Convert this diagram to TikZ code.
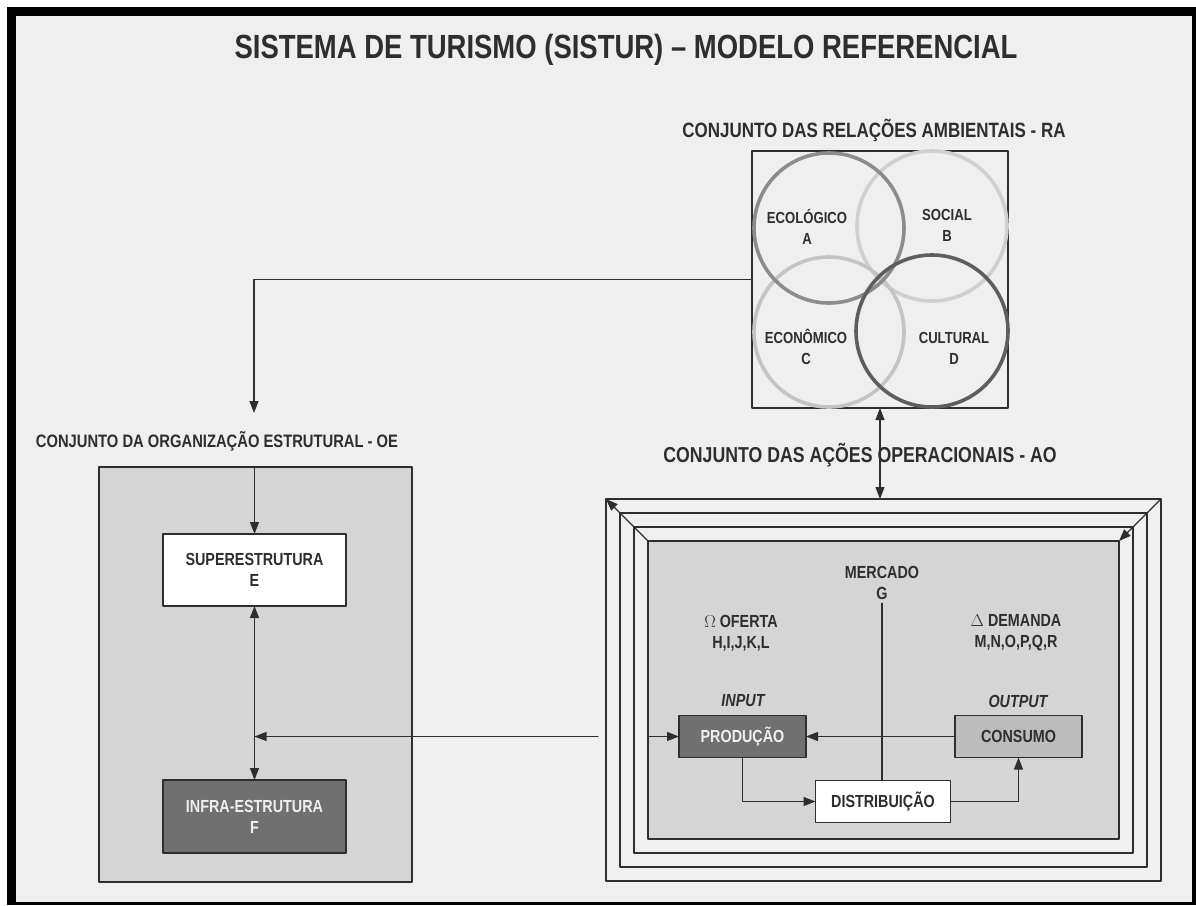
\documentclass[tikz,border=0pt]{standalone}
\usepackage{fontspec}
\setmainfont{Liberation Sans}[FakeStretch=0.82]
\usetikzlibrary{
  arrows.meta,
  positioning,
  calc
}
\definecolor{paper}{HTML}{EFEFEF}
\definecolor{ink}{HTML}{2E2E2E}
\definecolor{panel}{HTML}{D5D5D5}
\definecolor{darkfill}{HTML}{707070}
\definecolor{midfill}{HTML}{BCBCBC}
\definecolor{ringeco}{HTML}{8C8C8C}
\definecolor{ringsoc}{HTML}{D0D0D0}
\definecolor{ringeconom}{HTML}{C4C4C4}
\definecolor{ringcult}{HTML}{5E5E5E}
\tikzset{
  line/.style={draw=ink, line width=1.1pt},
  boxline/.style={draw=ink, line width=1.1pt, inner sep=0pt, outer sep=0pt},
  ring/.style={line width=3.6pt},
  titletext/.style={font=\bfseries\fontsize{33.5}{38}\selectfont, text=ink},
  heading/.style={font=\bfseries\fontsize{#1}{24}\selectfont, text=ink},
  heading/.default=20,
  lbl/.style={font=\bfseries\fontsize{17.5}{21}\selectfont, align=center, text=ink},
  ringlbl/.style={font=\bfseries\fontsize{16}{21}\selectfont, align=center, text=ink},
  unitbox/.style={boxline, lbl, minimum width=127pt, minimum height=42pt}
}
\begin{document}
\begin{tikzpicture}[line cap=round,line join=round,>={Triangle[length=12pt,width=9pt]},x=1pt,y=-1pt]
\useasboundingbox (0,0) rectangle (1196,905);
\fill[black] (7,7) rectangle (1196,905);
\fill[paper] (16,16) rectangle (1192,902);
\node[titletext] (title) at (626,50) {SISTEMA DE TURISMO (SISTUR) – MODELO REFERENCIAL};

% relacoes ambientais
\node[heading=20.7] (rahead) at (874,130) {CONJUNTO DAS RELAÇÕES AMBIENTAIS - RA};
\node[boxline, minimum width=256pt, minimum height=257pt] (ra) at (880,279.5) {};
\draw[ring, ringsoc] (932,226) circle[radius=75pt];
\draw[ring, ringeconom] (829,332) circle[radius=75pt];
\draw[ring, ringeco] (829,228) circle[radius=75pt];
\draw[ring, ringcult] (932,331) circle[radius=76pt];
\node[ringlbl] (eco) at (807,227) {ECOLÓGICO\\A};
\node[ringlbl] (soc) at (947,225) {SOCIAL\\B};
\node[ringlbl] (econ) at (806,347) {ECONÔMICO\\C};
\node[ringlbl] (cult) at (954,348) {CULTURAL\\D};

% organizacao estrutural
\coordinate (oein) at (254,413);
\draw[line,->] (ra.west) -| (oein);
\node[heading=18] (oehead) at (217,441) {CONJUNTO DA ORGANIZAÇÃO ESTRUTURAL - OE};
\node[boxline, fill=panel, minimum width=313pt, minimum height=415pt] (oe) at (255.5,674.5) {};
\node[boxline, lbl, fill=white, minimum width=183pt, minimum height=72pt] (sup) at (254.5,570) {SUPERESTRUTURA\\E};
\node[boxline, lbl, fill=darkfill, text=paper, minimum width=183pt, minimum height=73pt] (inf) at (254.5,816.5) {INFRA-ESTRUTURA\\F};
\draw[line,->] (oe.north -| sup.north) -- (sup.north);
\draw[line,<->] (sup.south) -- (inf.north);
\coordinate (aoout) at (598,736.5);
\draw[line,->] (aoout) -- (aoout -| sup.south);

% acoes operacionais
\node[heading=21.6] (aohead) at (860,455) {CONJUNTO DAS AÇÕES OPERACIONAIS - AO};
\foreach \i/\d in {1/0,2/14,3/28}
  \node[boxline, minimum width={555-2*\d}, minimum height={382-2*\d}] (f\i) at (883.5,690) {};
\node[boxline, fill=panel, minimum width=471pt, minimum height=298pt] (f4) at (883.5,690) {};
\draw[line,->] (f4.north west) -- (f1.north west);
\draw[line,->] (f1.north east) -- (f4.north east);
\draw[line,<->] (ra.south) -- (ra.south |- f1.north);

\node[lbl] (merc) at (882,583) {MERCADO\\G};
\node[lbl] (oferta) at (741,633) {$\Omega$ OFERTA\\H,I,J,K,L};
\node[lbl] (demanda) at (1016,633) {$\Delta$ DEMANDA\\M,N,O,P,Q,R};
\node[lbl, font=\bfseries\itshape\fontsize{17.5}{21}\selectfont] (inp) at (743,701) {INPUT};
\node[lbl, font=\bfseries\itshape\fontsize{17.5}{21}\selectfont] (outp) at (1018,701) {OUTPUT};
\node[unitbox, fill=darkfill, text=paper] (prod) at (742.5,736.5) {PRODUÇÃO};
\node[unitbox, fill=midfill] (cons) at (1018.5,736.5) {CONSUMO};
\node[unitbox, fill=white, minimum width=135pt] (dist) at (883,801.5) {DISTRIBUIÇÃO};

\draw[line] (merc.south) -- (merc.south |- dist.north);
\draw[line,->] (cons.west) -- (prod.east);
\draw[line,->] (f4.west |- prod.west) -- (prod.west);
\draw[line,->] (prod.south) |- (dist.west);
\draw[line,->] (dist.east) -| (cons.south);
\end{tikzpicture}
\end{document}
